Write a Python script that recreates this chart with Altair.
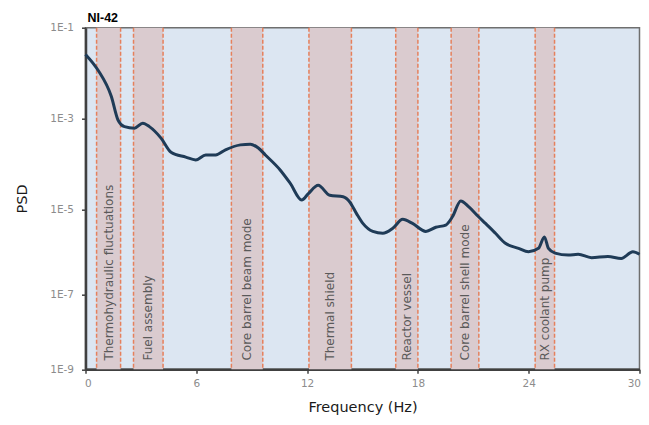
import altair as alt
import pandas as pd

# PSD curve
freq = [0.0, 0.68, 1.40, 1.76, 2.11, 2.65, 3.10, 3.46, 4.09, 4.63, 5.43, 5.97, 6.51, 7.05,
        7.58, 8.39, 8.93, 9.36, 9.74, 10.54, 11.08, 11.71, 12.07, 12.60, 13.23, 13.95,
        14.31, 14.67, 15.02, 15.56, 16.10, 16.64, 17.18, 17.71, 18.43, 18.97, 19.51,
        19.87, 20.32, 20.76, 21.30, 21.66, 22.20, 22.74, 23.45, 23.99, 24.53, 24.85,
        25.07, 25.43, 26.14, 26.68, 27.40, 28.29, 29.01, 29.64, 30.0]
psd = [2.6e-2, 1.17e-2, 3.1e-3, 9.5e-4, 6.8e-4, 6.3e-4, 8.1e-4, 6.8e-4, 3.8e-4, 1.86e-4,
       1.45e-4, 1.26e-4, 1.62e-4, 1.62e-4, 2.1e-4, 2.7e-4, 2.8e-4, 2.3e-4, 1.62e-4,
       7.6e-5, 3.9e-5, 1.66e-5, 2.3e-5, 3.5e-5, 2.1e-5, 1.95e-5, 1.5e-5, 8.3e-6, 4.8e-6,
       3.1e-6, 2.8e-6, 3.7e-6, 6.0e-6, 4.8e-6, 3.1e-6, 3.9e-6, 4.4e-6, 6.9e-6, 1.58e-5,
       1.17e-5, 6.8e-6, 4.8e-6, 2.8e-6, 1.62e-6, 1.23e-6, 1.02e-6, 1.23e-6, 2.3e-6,
       1.23e-6, 9.5e-7, 8.5e-7, 8.9e-7, 7.4e-7, 7.9e-7, 7.1e-7, 1.02e-6, 8.9e-7]

# Frequency bands
band_start = [0.6, 2.6, 7.9, 12.1, 16.8, 19.8, 24.35]
band_end = [1.9, 4.2, 9.6, 14.4, 18.0, 21.3, 25.4]
band_label = ["Thermohydraulic fluctuations", "Fuel assembly", "Core barrel beam mode",
              "Thermal shield", "Reactor vessel", "Core barrel shell mode", "RX coolant pump"]

x_ticks = [0, 6, 12, 18, 24, 30]
y_ticks = [1e-9, 1e-7, 1e-5, 1e-3, 1e-1]

W, H = 554, 341.5

curve = pd.DataFrame({"f": freq, "psd": psd})
bands = pd.DataFrame({"start": band_start, "end": band_end, "label": band_label})
bands["mid"] = (bands["start"] + bands["end"]) / 2

xscale = alt.Scale(domain=[0, 30], nice=False)
yscale = alt.Scale(type="log", domain=y_ticks, range=[H, 266.6, 182.3, 91.3, 0], nice=False)

xaxis = alt.Axis(values=x_ticks, title="Frequency (Hz)", labelPadding=5.5, titlePadding=11.8,
                 labelFlush=True, labelFlushOffset=1)
yaxis = alt.Axis(values=y_ticks, title="PSD", labelExpr="'1E' + round(log(datum.value)/LN10)",
                 labelPadding=8, titlePadding=20, labelFlush=False)

rects = alt.Chart(bands).mark_rect(color="#dacbcf").encode(
    x=alt.X("start:Q", scale=xscale, axis=xaxis), x2="end:Q")

rule_s = alt.Chart(bands).mark_rule(color="#e6805c", strokeWidth=1.5, strokeDash=[4, 2]).encode(
    x=alt.X("start:Q", scale=xscale))
rule_e = alt.Chart(bands).mark_rule(color="#e6805c", strokeWidth=1.5, strokeDash=[4, 2]).encode(
    x=alt.X("end:Q", scale=xscale))

labels = alt.Chart(bands).mark_text(angle=270, align="left", baseline="middle",
                                    font="DejaVu Sans", fontSize=12, color="#5a5a5a").encode(
    x=alt.X("mid:Q", scale=xscale),
    y=alt.datum(1.7e-9, scale=yscale),
    text="label:N")

line = alt.Chart(curve).mark_line(color="#1f3b57", strokeWidth=3, interpolate="monotone").encode(
    x=alt.X("f:Q", scale=xscale, axis=xaxis),
    y=alt.Y("psd:Q", scale=yscale, axis=yaxis))

chart = alt.layer(rects, rule_s, rule_e, labels, line).properties(
    width=W, height=H,
    autosize=alt.AutoSizeParams(type="none"),
    padding={"left": 77.5, "top": 19.7, "right": 1.5, "bottom": 47.5},
    title=alt.TitleParams("NI-42", anchor="start", frame="group", font="Liberation Sans",
                          fontSize=12.5, fontWeight="bold", color="#000000", offset=-2, dx=2),
).configure_view(fill="#dce6f2", stroke="#6f6f6f", strokeWidth=1.5).configure_axis(
    grid=False, domainColor="#404040", domainWidth=2.5, tickColor="#404040", tickSize=4,
    tickWidth=1.5, labelColor="#8c8c8c", labelFont="DejaVu Sans", labelFontSize=10.5,
    titleFont="DejaVu Sans", titleFontSize=14.5, titleFontWeight="normal", titleColor="#1a1a1a")

chart.save("out.html", embed_options={"renderer": "svg", "actions": False})
